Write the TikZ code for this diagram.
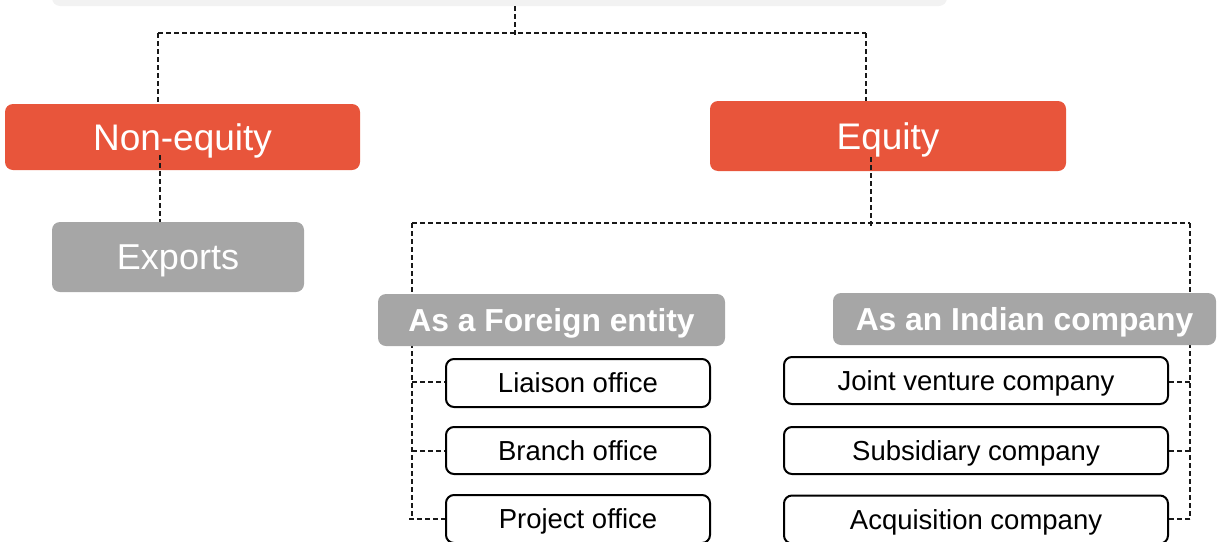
\documentclass[tikz,border=0pt]{standalone}
\usepackage{fontspec}
\setmainfont{Liberation Sans}
\definecolor{orng}{HTML}{E8553B}
\definecolor{grayb}{HTML}{A6A6A6}
\definecolor{topgray}{HTML}{F2F2F2}
\tikzset{
  conn/.style={draw=black!90, line width=1.3pt, dash pattern=on 5pt off 3pt},
  mainbox/.style={rectangle, rounded corners=8pt, fill=orng, text=white, inner sep=0pt,
    font=\fontsize{37}{44}\selectfont, text height=26.5pt, text depth=0pt},
  greybox/.style={rectangle, rounded corners=8pt, fill=grayb, text=white, inner sep=0pt},
  subhead/.style={greybox, font=\bfseries\fontsize{31.8}{38}\selectfont, text height=22.8pt, text depth=0pt},
  itembox/.style={rectangle, rounded corners=8pt, draw=black, line width=2pt, fill=white,
    inner sep=0pt, font=\fontsize{27.5}{33}\selectfont, text height=19.7pt, text depth=0pt}
}
\begin{document}
\begin{tikzpicture}[x=1pt,y=-1pt]
\clip (0,0) rectangle (1222,541);
\useasboundingbox (0,0) rectangle (1222,541);
% top box (cut off)
\node[rectangle, rounded corners=8pt, fill=topgray, minimum width=895pt, minimum height=40pt, inner sep=0pt] (top) at (499.5,-14) {};
% coordinates for connectors
\coordinate (jT) at (515,38);
\coordinate (jL) at (158,33);
\coordinate (jR) at (866,33);
% connectors from top
\draw[conn] (jT |- top.south) -- (jT);
\draw[conn] (jL) -- (jR);
% main boxes
\node[mainbox, minimum width=355pt, minimum height=66pt] (noneq) at (182.5,137) {Non-equity};
\node[mainbox, minimum width=356pt, minimum height=70pt] (equity) at (888,136) {Equity};
\draw[conn] (jL) -- (jL |- noneq.north);
\draw[conn] (jR) -- (jR |- equity.north);
% exports
\node[greybox, minimum width=252pt, minimum height=70pt, font=\fontsize{36}{43}\selectfont, text height=25.8pt, text depth=0pt] (exports) at (178,257) {Exports};
\coordinate (nA) at (160,155);
\draw[conn] (nA) -- (nA |- exports.north);
% equity split
\coordinate (eA) at (871,157);
\coordinate (eB) at (871,228);
\coordinate (hL) at (412,223);
\coordinate (hR) at (1190,223);
\draw[conn] (eA) -- (eB);
\draw[conn] (hL) -- (hR);
\coordinate (vL) at (412,519);
\coordinate (vR) at (1190,519);
\draw[conn] (hL) -- (vL);
\draw[conn] (hR) -- (vR);
% sub headers
\node[subhead, minimum width=347pt, minimum height=52pt] (foreign) at (551.5,320) {As a Foreign entity};
\node[subhead, minimum width=383pt, minimum height=52pt] (indian) at (1024.5,319) {As an Indian company};
% item boxes
\node[itembox, minimum width=264pt, minimum height=48pt] (liaison) at (578,383) {Liaison office};
\node[itembox, minimum width=264pt, minimum height=47pt] (branch) at (578,450.5) {Branch office};
\node[itembox, minimum width=264pt, minimum height=48pt] (project) at (578,519) {Project office};
\node[itembox, minimum width=384pt, minimum height=47pt] (jv) at (976,380.5) {Joint venture company};
\node[itembox, minimum width=384pt, minimum height=47pt] (subs) at (976,450.5) {Subsidiary company};
\node[itembox, minimum width=384pt, minimum height=48pt] (acq) at (976,519.5) {Acquisition company};
% branches
\draw[conn] (412,382) -- (liaison.west |- 412,382);
\draw[conn] (412,451) -- (branch.west |- 412,451);
\draw[conn] (409,519) -- (project.west |- 409,519);
\draw[conn] (jv.east |- 1190,382) -- (1190,382);
\draw[conn] (subs.east |- 1190,451) -- (1190,451);
\draw[conn] (acq.east |- 1190,519) -- (1190,519);
\end{tikzpicture}
\end{document}
